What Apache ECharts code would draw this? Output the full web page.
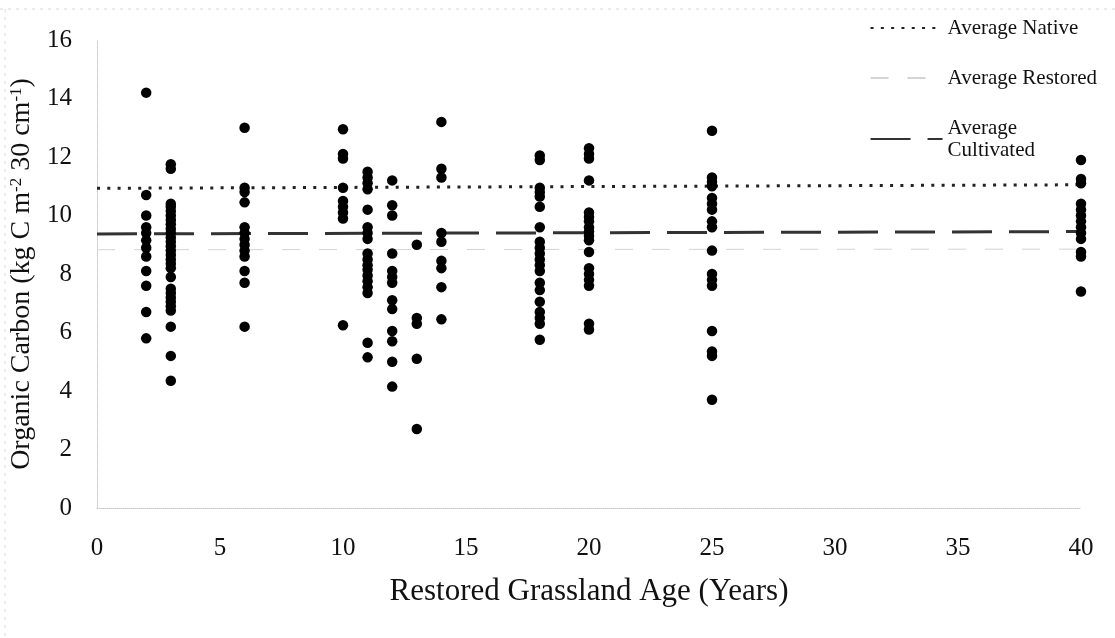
<!DOCTYPE html>
<html>
<head>
<meta charset="utf-8">
<script src="https://cdn.jsdelivr.net/npm/echarts@6/dist/echarts.min.js"></script>
<style>
  html, body { margin: 0; padding: 0; background: #fff; }
  #chart { width: 1115px; height: 638px; }
</style>
</head>
<body>
<div id="chart"></div>
<script>
// Restored grassland age (years) for each sampled column
const ages = [2, 3, 6, 10, 11, 12, 13, 14, 18, 20, 25, 40];

// Organic carbon (kg C m-2 30 cm-1)
const age2 = [14.2, 10.7, 10.0, 9.6, 9.4, 9.15, 8.9, 8.6, 8.1, 7.6, 6.7, 5.8];
const age3 = [11.75, 11.6, 10.4, 10.3, 10.15, 10.0, 9.85, 9.7, 9.55, 9.4, 9.25, 9.1, 8.95, 8.8, 8.65, 8.5, 8.35, 8.2, 7.9, 7.5, 7.35, 7.2, 7.05, 6.9, 6.75, 6.2, 5.2, 4.35];
const age6 = [13.0, 10.95, 10.8, 10.45, 9.6, 9.4, 9.2, 9.0, 8.8, 8.6, 8.1, 7.7, 6.2];
const age10 = [12.95, 12.1, 11.95, 10.95, 10.5, 10.3, 10.1, 9.9, 6.25];
const age11 = [11.5, 11.3, 11.1, 10.9, 10.2, 9.6, 9.4, 9.2, 8.7, 8.5, 8.3, 8.15, 7.95, 7.75, 7.55, 7.35, 5.65, 5.15];
const age12 = [11.2, 10.35, 10.0, 8.7, 8.1, 7.9, 7.7, 7.1, 6.8, 6.05, 5.7, 5.0, 4.15];
const age13 = [9.0, 6.5, 6.3, 5.1, 2.7];
const age14 = [13.2, 11.6, 11.3, 9.4, 9.1, 8.45, 8.2, 7.55, 6.45];
const age18 = [12.05, 11.9, 10.95, 10.8, 10.65, 10.3, 9.6, 9.1, 8.9, 8.7, 8.5, 8.3, 8.1, 7.7, 7.45, 7.05, 6.7, 6.5, 6.3, 5.75];
const age20 = [12.3, 12.1, 11.95, 11.2, 10.1, 9.95, 9.8, 9.6, 9.45, 9.3, 9.15, 8.75, 8.2, 8.0, 7.8, 7.6, 6.3, 6.1];
const age25 = [12.9, 11.3, 11.15, 11.0, 10.6, 10.4, 10.2, 9.8, 9.6, 8.8, 8.0, 7.8, 7.6, 6.05, 5.35, 5.2, 3.7];
const age40 = [11.9, 11.25, 11.1, 10.4, 10.2, 10.0, 9.8, 9.6, 9.4, 9.2, 8.75, 8.6, 7.4];
const carbonByAge = [age2, age3, age6, age10, age11, age12, age13, age14, age18, age20, age25, age40];

// Reference averages, given at both ends of the age range
const ageRange = [0, 40];
const avgNative = [10.93, 11.05];
const avgRestored = [8.83, 8.85];
const avgCultivated = [9.37, 9.45];

const xTicks = ['0', '5', '10', '15', '20', '25', '30', '35', '40'];

const serif = '"Liberation Serif", "DejaVu Serif", serif';

const points = [];
ages.forEach((a, i) => {
    carbonByAge[i].forEach(v => points.push([a, v]));
});
const ends = arr => ageRange.map((a, i) => [a, arr[i]]);

const chart = echarts.init(document.getElementById('chart'));
chart.setOption({
    animation: false,
    backgroundColor: '#fff',
    grid: { left: 97, right: 34, top: 40, bottom: 130 },
    legend: {
        orient: 'vertical',
        right: 13,
        top: 12,
        itemWidth: 72,
        itemHeight: 10,
        itemGap: 28,
        align: 'left',
        itemStyle: { opacity: 0 },
        data: ['Average Native', 'Average Restored', 'Average Cultivated'],
        formatter: n => n === 'Average Cultivated' ? 'Average\nCultivated' : n,
        textStyle: { fontFamily: serif, fontSize: 21, color: '#111', lineHeight: 22 }
    },
    xAxis: {
        type: 'value',
        min: 0,
        max: 40,
        interval: 5,
        name: 'Restored Grassland Age (Years)',
        nameLocation: 'middle',
        nameGap: 68,
        nameTextStyle: { fontFamily: serif, fontSize: 31, color: '#111' },
        axisLine: { show: true, lineStyle: { color: '#c8c8c8', type: 'dotted', width: 1 } },
        axisTick: { show: false },
        splitLine: { show: false },
        axisLabel: {
            margin: 28,
            fontFamily: serif,
            fontSize: 25,
            color: '#111',
            formatter: v => xTicks[v / 5]
        }
    },
    yAxis: {
        type: 'value',
        min: 0,
        max: 16,
        interval: 2,
        name: 'Organic Carbon (kg C m{sup|-2} 30 cm{sup|-1})',
        nameLocation: 'middle',
        nameRotate: 90,
        nameGap: 46,
        nameTextStyle: {
            fontFamily: serif,
            fontSize: 28,
            color: '#111',
            rich: {
                sup: { fontFamily: serif, fontSize: 17, color: '#111', verticalAlign: 'top' }
            }
        },
        axisLine: { show: true, lineStyle: { color: '#c8c8c8', type: 'dotted', width: 1 } },
        axisTick: { show: false },
        splitLine: { show: false },
        axisLabel: { margin: 25, fontFamily: serif, fontSize: 25, color: '#111' }
    },
    series: [
        {
            name: 'Average Native',
            type: 'line',
            data: ends(avgNative),
            symbol: 'none',
            silent: true,
            z: 2,
            itemStyle: { color: '#222' },
            lineStyle: { color: '#222', width: 3, type: [3, 7.3] }
        },
        {
            name: 'Average Restored',
            type: 'line',
            data: ends(avgRestored),
            symbol: 'none',
            silent: true,
            z: 1,
            itemStyle: { color: '#d4d4d4' },
            lineStyle: { color: '#d4d4d4', width: 1, type: [18, 19] }
        },
        {
            name: 'Average Cultivated',
            type: 'line',
            data: ends(avgCultivated),
            symbol: 'none',
            silent: true,
            z: 2,
            itemStyle: { color: '#333' },
            lineStyle: { color: '#333', width: 3, type: [40, 17] }
        },
        {
            name: 'Organic Carbon',
            type: 'scatter',
            data: points,
            symbol: 'circle',
            symbolSize: 10.5,
            z: 5,
            itemStyle: { color: '#000', opacity: 1 }
        }
    ],
    graphic: [
        // faint scanned frame edges
        { type: 'line', shape: { x1: 0, y1: 9, x2: 1115, y2: 9 }, style: { stroke: '#d8d8d8', lineWidth: 1, lineDash: [3, 5] }, silent: true },
        { type: 'line', shape: { x1: 5, y1: 9, x2: 5, y2: 638 }, style: { stroke: '#d8d8d8', lineWidth: 1, lineDash: [3, 5] }, silent: true }
    ]
});
</script>
</body>
</html>
